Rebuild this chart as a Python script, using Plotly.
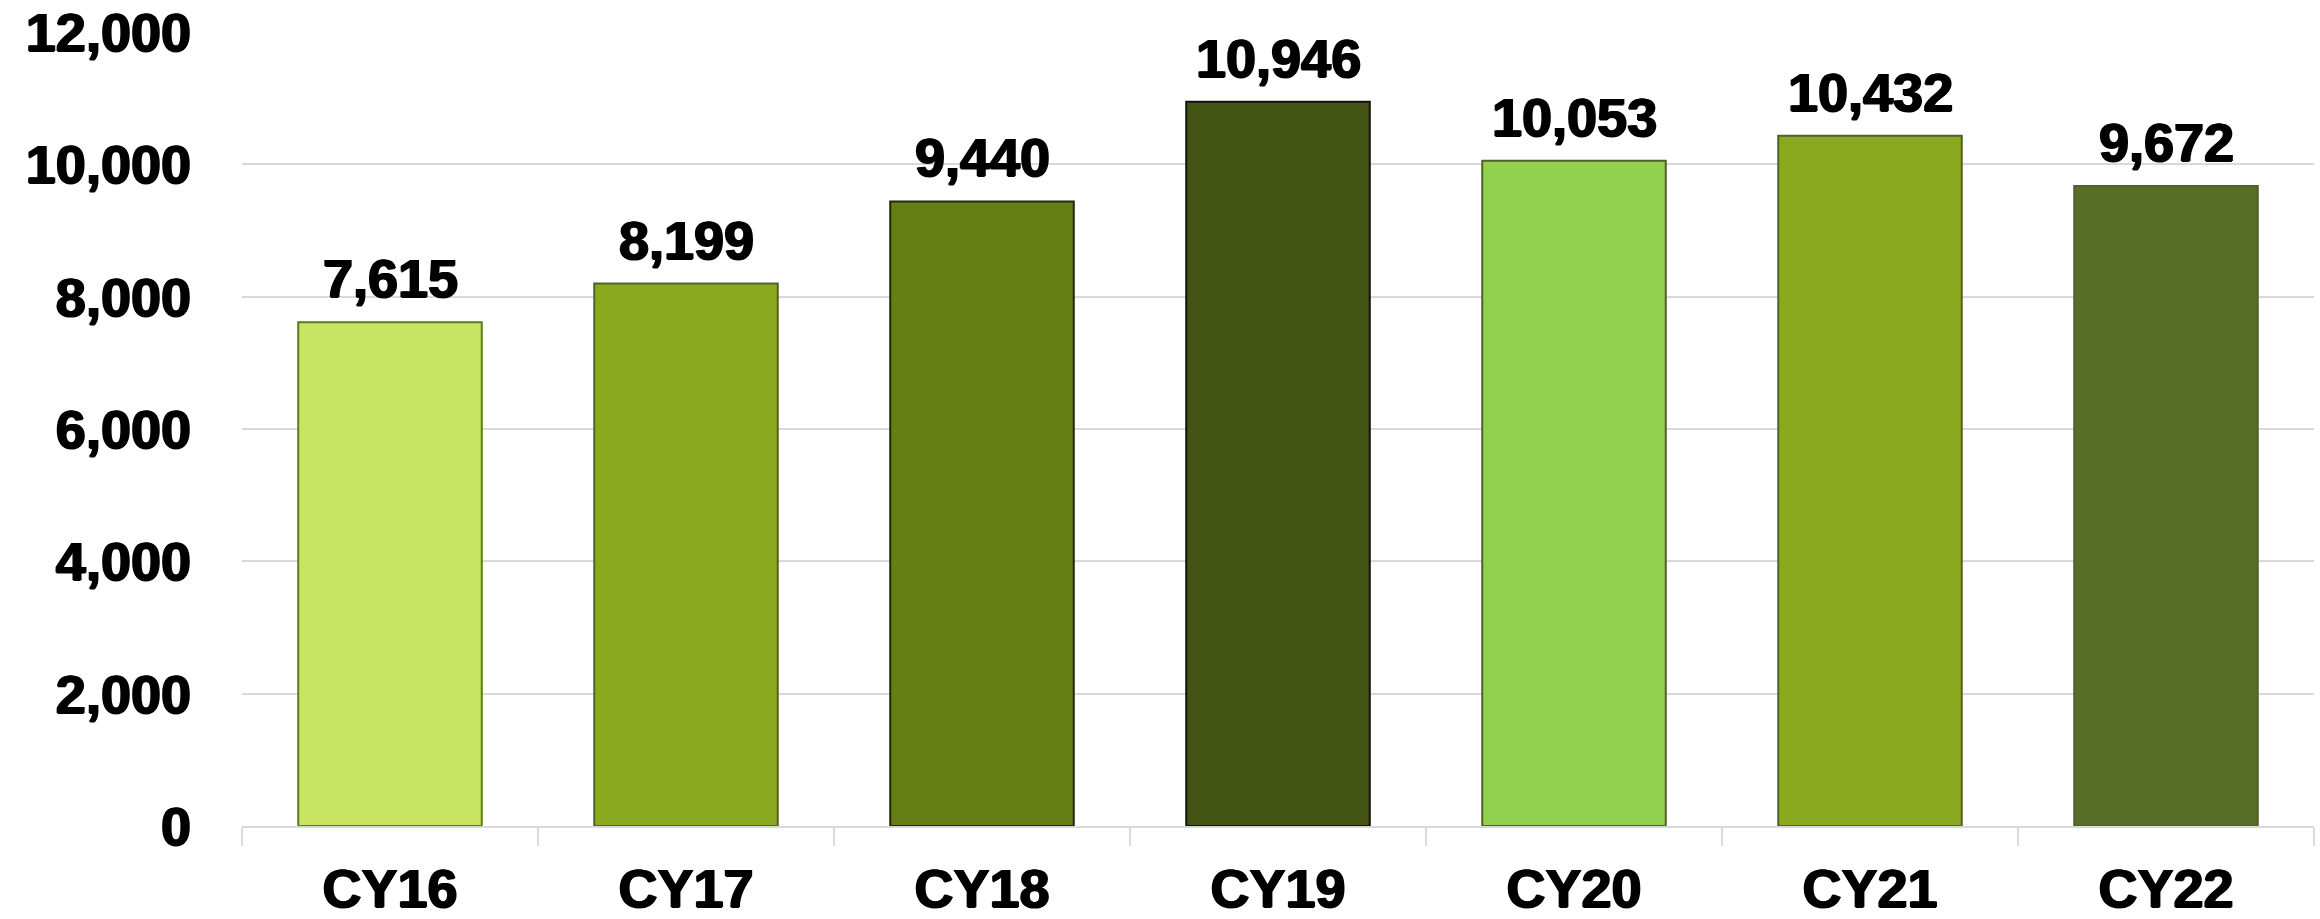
import plotly.graph_objects as go

categories = ["CY16", "CY17", "CY18", "CY19", "CY20", "CY21", "CY22"]
values = [7615, 8199, 9440, 10946, 10053, 10432, 9672]
bar_colors = ["#C8E462", "#8AA820", "#677D16", "#445413", "#92D050", "#8AA820", "#586D27"]
border_colors = ["#5C7A1C", "#4F6228", "#1E2A08", "#111111", "#4F6228", "#4F6228", "#4F6228"]
y_ticks = [0, 2000, 4000, 6000, 8000, 10000, 12000]

FONT = "Arial Black, Liberation Sans, Arial, sans-serif"
SHADOW = "1px 0px 0px #000, -1px 0px 0px #000, 0px 1px 0px #000"
font_main = dict(family=FONT, size=54, color="#000000", weight="bold", shadow=SHADOW)

fig = go.Figure()
fig.add_trace(go.Bar(
    x=categories,
    y=values,
    width=0.62,
    marker=dict(color=bar_colors, line=dict(color=border_colors, width=2)),
    hoverinfo="x+y",
))

for c, v in zip(categories, values):
    fig.add_annotation(
        x=c, y=v, text=f"{v:,}", showarrow=False,
        yanchor="bottom", yshift=12,
        font=font_main,
    )

fig.update_layout(
    width=2320, height=919,
    margin=dict(l=242, r=6, t=32, b=93),
    paper_bgcolor="white", plot_bgcolor="white",
    showlegend=False,
)
fig.update_xaxes(
    type="category",
    automargin=False,
    tickson="boundaries",
    ticks="outside", ticklen=18, tickwidth=2, tickcolor="#D9D9D9",
    showline=True, linecolor="#D9D9D9", linewidth=2,
    showgrid=False,
    ticklabelstandoff=14,
    tickfont=font_main,
)
fig.update_yaxes(
    range=[0, 12000],
    automargin=False,
    tickvals=y_ticks,
    tickformat=",d",
    showgrid=True, gridcolor="#D9D9D9", gridwidth=2,
    zeroline=False,
    ticks="", ticklabelstandoff=50,
    tickfont=font_main,
)

fig.write_html(
    "out.html",
    config={"displayModeBar": False},
    post_script="document.body.style.margin='0';document.body.style.overflow='hidden';",
)
